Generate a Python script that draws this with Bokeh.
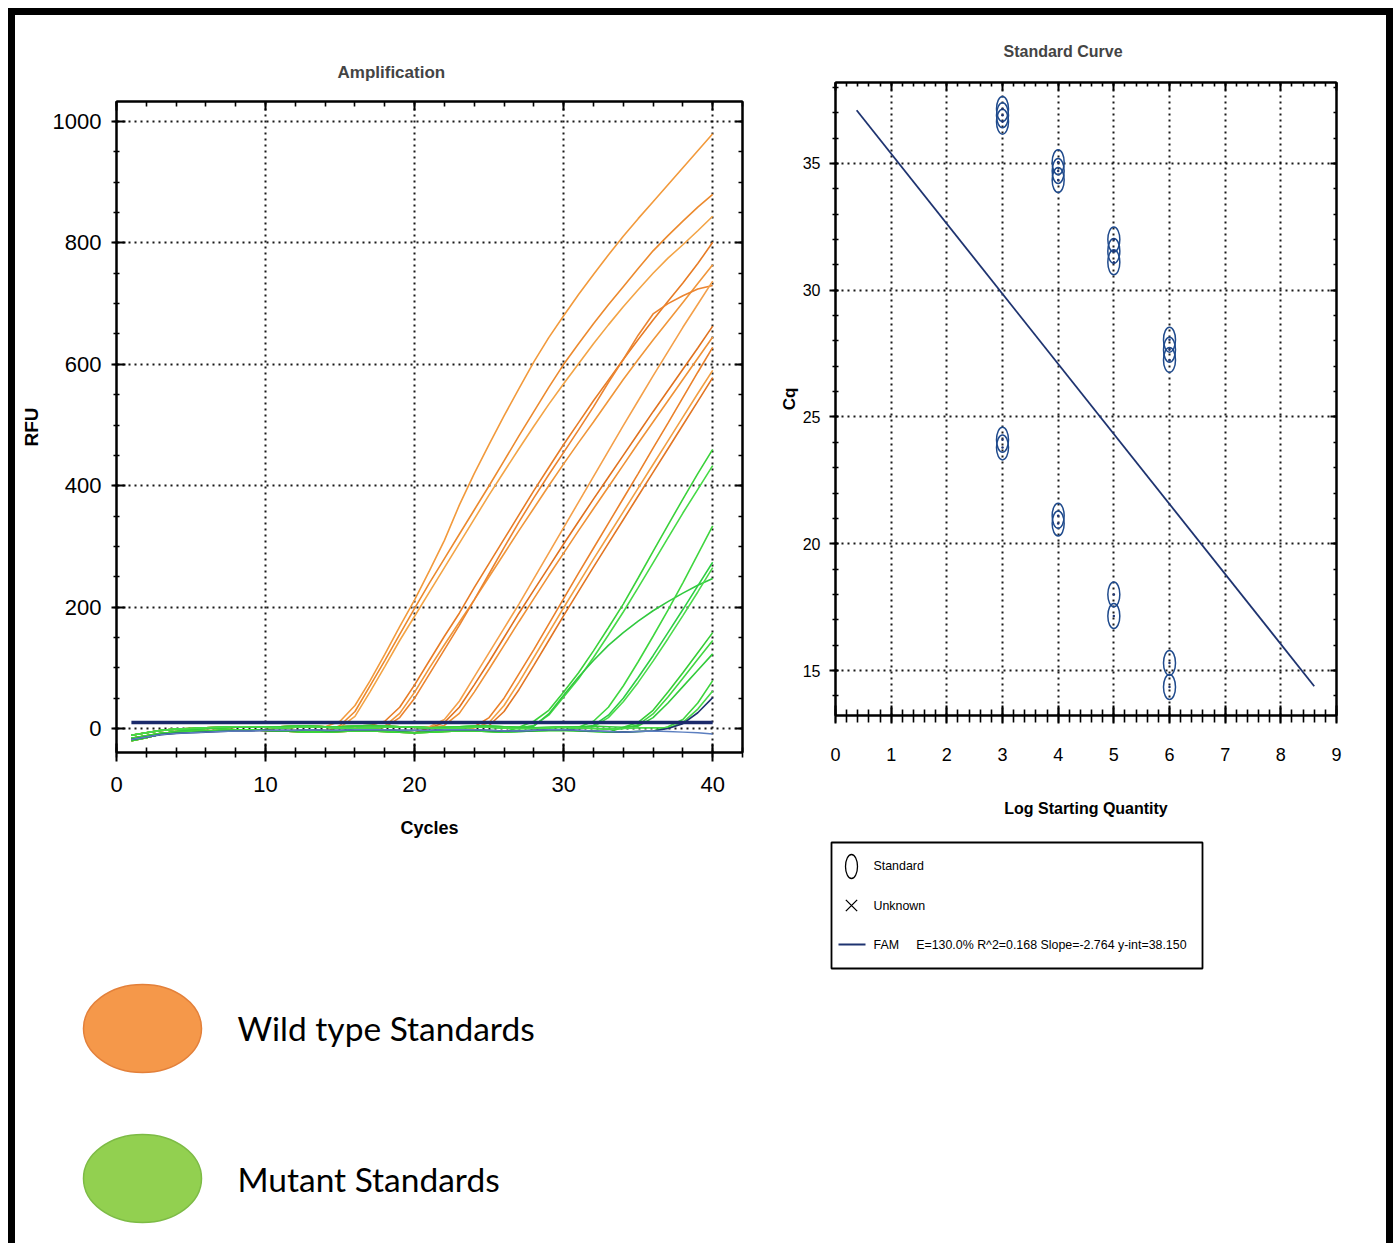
from bokeh.plotting import figure
from bokeh.models import (Range1d, SingleIntervalTicker, LinearAxis, Spacer, Title,
                          CustomLabelingPolicy)
from bokeh.layouts import row, column
from bokeh.embed import file_html
from bokeh.resources import INLINE
from bokeh.core.properties import value

SANS = "Liberation Sans"
KEY_FONT = "Lato"
NAVY = "#1E3370"

# ---------------------------------------------------------------- data
cycles = list(range(1, 41))

# flat pre-amplification readings (RFU), cycles 1..40
base_a = [-20, -15, -9, -5, -2, 0, 1, 2, 2, 3, 3, 4, 4, 3, 3, 4, 5, 4, 3, 2,
          1, 2, 3, 4, 4, 3, 2, 1, 2, 3, 3, 4, 3, 2, 2, 3, 4, 3, 2, 3]
base_b = [-16, -12, -8, -6, -5, -4, -3, -2, -2, -3, -4, -5, -6, -6, -5, -4, -4, -5, -6, -7,
          -6, -5, -4, -4, -5, -6, -5, -4, -3, -3, -4, -5, -6, -6, -5, -4, -4, -3, -4, -5]
base_c = [-11, -7, -3, -1, 0, 1, 2, 3, 3, 2, 1, 2, 3, 2, 1, 0, 1, 2, 3, 2,
          1, 0, 1, 2, 2, 1, 0, 0, 1, 2, 1, 0, -1, 0, 1, 1, 0, -1, 0, 1]
base_navy = [-18, -14, -10, -8, -7, -6, -5, -4, -4, -3, -3, -3, -2, -3, -3, -2, -2, -2, -3, -3,
             -3, -2, -2, -2, -3, -4, -4, -3, -2, -2, -3, -4, -5, -6, -5, -4, -5, -6, -7, -9]
bases = {"a": base_a, "b": base_b, "c": base_c, "n": base_navy}

# wild type standards: (first rising cycle, baseline, RFU from that cycle to 40)
wild_type = [
    (15, "a", [12, 38, 78, 122, 168, 212, 260, 310, 368, 420, 468, 515, 560, 604, 644, 680,
               715, 748, 780, 811, 840, 868, 896, 924, 952, 980]),
    (15, "b", [5, 28, 70, 112, 155, 198, 240, 280, 320, 360, 400, 441, 482, 522, 562, 600,
               634, 667, 698, 728, 758, 787, 812, 836, 859, 880]),
    (15, "c", [2, 20, 60, 102, 145, 185, 225, 265, 305, 345, 385, 423, 461, 498, 534, 568,
               601, 634, 665, 695, 723, 750, 775, 797, 820, 844]),
    (18, "a", [12, 35, 72, 112, 152, 190, 232, 272, 312, 352, 392, 430, 468, 504, 540, 574,
               608, 641, 673, 704, 734, 766, 801]),
    (18, "b", [4, 25, 60, 100, 138, 175, 212, 250, 288, 326, 363, 400, 436, 471, 505, 540,
               575, 608, 640, 671, 702, 733, 764]),
    (18, "c", [2, 18, 50, 90, 130, 170, 212, 255, 298, 340, 380, 418, 455, 492, 530, 570,
               608, 648, 683, 700, 713, 724, 730]),
    (21, "a", [3, 15, 45, 85, 125, 165, 205, 247, 289, 331, 373, 415, 457, 499, 540, 581,
               621, 661, 699, 737]),
    (21, "b", [1, 10, 35, 72, 110, 150, 190, 228, 266, 304, 341, 378, 414, 450, 486, 522,
               557, 592, 627, 663]),
    (22, "c", [5, 25, 60, 98, 137, 176, 214, 252, 289, 326, 362, 398, 434, 470, 505, 540,
               575, 610, 645]),
    (24, "a", [3, 18, 50, 90, 130, 172, 214, 256, 297, 338, 379, 420, 462, 503, 545, 587, 628]),
    (24, "b", [1, 10, 38, 76, 117, 158, 199, 239, 279, 318, 357, 396, 435, 474, 513, 552, 590]),
    (25, "c", [5, 28, 64, 104, 145, 186, 226, 266, 305, 344, 383, 422, 461, 500, 539, 578]),
]

# mutant standards
mutant = [
    (27, "b", [2, 12, 30, 60, 92, 128, 166, 205, 248, 292, 335, 378, 420, 460]),
    (28, "c", [5, 22, 52, 82, 117, 154, 192, 232, 273, 314, 355, 394, 433]),
    (28, "a", [4, 24, 55, 85, 112, 137, 158, 177, 194, 209, 223, 236, 247]),
    (31, "b", [2, 12, 35, 70, 110, 152, 195, 240, 287, 334]),
    (32, "c", [5, 22, 50, 84, 120, 158, 196, 235, 274]),
    (32, "a", [3, 18, 44, 76, 111, 148, 186, 225, 265]),
    (34, "b", [2, 10, 30, 60, 92, 125, 158]),
    (35, "c", [6, 24, 52, 83, 114, 145]),
    (35, "a", [4, 18, 42, 69, 96, 123]),
    (37, "b", [3, 15, 42, 79]),
    (37, "c", [1, 10, 32, 62]),
]

# no-template well and the detection threshold
ntc = [
    (37, "n", [0, 8, 26, 51]),
]
threshold = 10

wt_colors = ["#F29A3C", "#EC8A2E", "#F3A446", "#E77C26", "#F0963A", "#EB8430",
             "#F4A04A", "#E0721F", "#EF9136", "#EA812B", "#F29E42", "#E27624"]
mt_colors = ["#3AD23A", "#46DA46", "#31C93F", "#3FD63F", "#2ECF44", "#4BDB4B",
             "#36CE36", "#42D742", "#33CB3B", "#3CD43C", "#48D948"]

# standard curve
std_log_qty = [3, 3, 3, 4, 4, 4, 5, 5, 5, 6, 6, 6, 3, 3, 4, 4, 5, 5, 6, 6]
std_cq = [37.15, 36.9, 36.65, 35.05, 34.7, 34.35, 32.0, 31.55, 31.1, 28.05, 27.65, 27.25,
          24.1, 23.8, 21.1, 20.8, 18.0, 17.15, 15.3, 14.35]
FIT_E = 130.0
FIT_R2 = 0.168
FIT_SLOPE = -2.764
FIT_INT = 38.150
fit_x = [0.38, 8.6]

key_labels = ["Wild type Standards", "Mutant Standards"]
key_fill = ["#F5984A", "#92D050"]
key_edge = ["#E3803A", "#7DBB45"]


def series(start, base, rise):
    return bases[base][:start - 1] + rise


def dotted_grid(p):
    for g in (p.xgrid[0], p.ygrid[0]):
        g.grid_line_color = "black"
        g.grid_line_dash = "2 4"
        g.grid_line_width = 2
        g.grid_line_alpha = 0.9


# tick marks on the top / right edges carry no labels
NO_LABELS = CustomLabelingPolicy(code="""
try {
  for (const i of Array.from(indices)) indices.unset(i)
} catch (e) {}
return indices
""")


def edge_axis(p, side, ticker, tin, tmin):
    ax = LinearAxis(ticker=ticker, major_label_text_font_size="0px",
                    major_label_policy=NO_LABELS, major_label_standoff=0,
                    major_tick_in=tin, major_tick_out=0, minor_tick_in=tmin, minor_tick_out=0,
                    axis_line_width=2, major_tick_line_width=2, minor_tick_line_width=1.6)
    p.add_layout(ax, side)


def style_axis(ax, size):
    ax.axis_line_width = 2
    ax.major_tick_line_width = 2
    ax.minor_tick_line_width = 1.6
    ax.major_label_text_font = SANS
    ax.major_label_text_font_size = size
    ax.major_label_text_color = "black"
    ax.axis_label_text_font = SANS
    ax.axis_label_text_font_style = "bold"
    ax.axis_label_text_color = "black"


# ---------------------------------------------------------------- amplification
p_amp = figure(width=745, height=960, x_range=Range1d(0, 42), y_range=Range1d(-39.5, 1033),
               output_backend="svg", toolbar_location=None,
               min_border_left=101, min_border_right=18, min_border_top=86,
               min_border_bottom=223)
p_amp.outline_line_color = "black"
p_amp.outline_line_width = 2
p_amp.title = Title(text="Amplification", align="left", offset=221, text_font=SANS,
                    text_font_size="17px", text_font_style="bold", standoff=40)

xa = p_amp.xaxis[0]
xa.ticker = SingleIntervalTicker(interval=10, num_minor_ticks=5)
xa.axis_label = "Cycles"
ya = p_amp.yaxis[0]
ya.ticker = SingleIntervalTicker(interval=200, num_minor_ticks=4)
ya.axis_label = "RFU"
style_axis(xa, "22px")
style_axis(ya, "22px")
xa.major_tick_in, xa.major_tick_out = 9, 9
xa.minor_tick_in, xa.minor_tick_out = 5, 5
xa.major_label_standoff = 15
xa.axis_label_text_font_size = "18px"
xa.axis_label_standoff = 23
ya.major_tick_in, ya.major_tick_out = 9, 5
ya.minor_tick_in, ya.minor_tick_out = 3, 3
ya.major_label_standoff = 10
ya.axis_label_text_font_size = "19px"
ya.axis_label_standoff = 8
edge_axis(p_amp, "above", SingleIntervalTicker(interval=10, num_minor_ticks=5), 9, 5)
edge_axis(p_amp, "right", SingleIntervalTicker(interval=200, num_minor_ticks=4), 7, 4)
dotted_grid(p_amp)

for (start, base, rise), col in zip(wild_type, wt_colors):
    p_amp.line(cycles, series(start, base, rise), line_color=col, line_width=1.6)
for (start, base, rise), col in zip(mutant, mt_colors):
    p_amp.line(cycles, series(start, base, rise), line_color=col, line_width=1.6)
for start, base, rise in ntc:
    p_amp.line(cycles, series(start, base, rise), line_color=NAVY, line_width=1.6)
p_amp.line(cycles, base_navy, line_color="#5C7FC0", line_width=1.4)
p_amp.line([cycles[0], cycles[-1]], [threshold, threshold], line_color="#1B2A6B", line_width=3.5)

# ---------------------------------------------------------------- standard curve
p_std = figure(width=626, height=820, x_range=Range1d(0, 9), y_range=Range1d(13.225, 38.195),
               output_backend="svg", toolbar_location=None,
               min_border_left=75, min_border_right=50, min_border_top=67,
               min_border_bottom=120)
p_std.outline_line_color = "black"
p_std.outline_line_width = 2
p_std.title = Title(text="Standard Curve", align="left", offset=168, text_font=SANS,
                    text_font_size="16px", text_font_style="bold", standoff=46)
sx = p_std.xaxis[0]
sx.ticker = SingleIntervalTicker(interval=1, num_minor_ticks=5)
sx.axis_label = "Log Starting Quantity"
sy = p_std.yaxis[0]
sy.ticker = SingleIntervalTicker(interval=5, num_minor_ticks=5)
sy.axis_label = "Cq"
style_axis(sx, "18px")
style_axis(sy, "16px")
sx.major_tick_in, sx.major_tick_out = 10, 8
sx.minor_tick_in, sx.minor_tick_out = 6, 7
sx.major_label_standoff = 24
sx.axis_label_text_font_size = "16px"
sx.axis_label_standoff = 36
sy.major_tick_in, sy.major_tick_out = 3, 6
sy.minor_tick_in, sy.minor_tick_out = 3, 3
sy.major_label_standoff = 9
sy.axis_label_text_font_size = "17px"
sy.axis_label_standoff = 1
edge_axis(p_std, "above", SingleIntervalTicker(interval=1, num_minor_ticks=5), 8, 4)
edge_axis(p_std, "right", SingleIntervalTicker(interval=5, num_minor_ticks=5), 6, 3)
dotted_grid(p_std)

fit_y = [FIT_INT + FIT_SLOPE * x for x in fit_x]
p_std.line(fit_x, fit_y, line_color=NAVY, line_width=1.8)
p_std.ellipse(x=std_log_qty, y=std_cq, width=12, height=25, width_units="screen",
              height_units="screen", fill_color=None, line_color="#1F4A8C", line_width=1.5)
p_std.scatter(std_log_qty, std_cq, marker="circle", size=2.5, fill_color=NAVY, line_color=None)

# ---------------------------------------------------------------- standard curve legend box
fam_label = ("FAM\u00a0\u00a0\u00a0\u00a0\u00a0E=%.1f%% R^2=%.3f Slope=%.3f y-int=%.3f"
             % (FIT_E, FIT_R2, FIT_SLOPE, FIT_INT))
leg_labels = ["Standard", "Unknown", fam_label]
LEG_GLYPH_X = 20      # glyph column centre inside the box
LEG_TEXT_X = 42       # label column start inside the box
p_leg = figure(width=375, height=140, x_range=Range1d(0, 371),
               y_range=Range1d(2.615, -0.615), output_backend="svg", toolbar_location=None,
               min_border_left=2, min_border_right=2, min_border_top=7, min_border_bottom=7,
               x_axis_location=None, y_axis_location=None)
p_leg.grid.visible = False
p_leg.outline_line_color = "black"
p_leg.outline_line_width = 1.8
p_leg.ellipse(x=[LEG_GLYPH_X], y=[0], width=12, height=24, width_units="screen",
              height_units="screen", fill_color=None, line_color="black", line_width=1.3)
p_leg.scatter(x=[LEG_GLYPH_X], y=[1], marker="x", size=16, line_color="black", line_width=1.3)
p_leg.segment(x0=[LEG_GLYPH_X - 13], y0=[2], x1=[LEG_GLYPH_X + 14], y1=[2],
              line_color=NAVY, line_width=2.2)
p_leg.text(x=[LEG_TEXT_X] * 3, y=[0, 1, 2], text=leg_labels, text_font=value(SANS),
           text_font_size="12.4px", text_baseline="middle", text_color="black")

# ---------------------------------------------------------------- colour key
KEY_SWATCH_X = 127
KEY_TEXT_X = 222
p_key = figure(width=1371, height=268, x_range=Range1d(0, 1371), y_range=Range1d(1.4333, -0.3533),
               output_backend="svg", toolbar_location=None, min_border=0,
               x_axis_location=None, y_axis_location=None)
p_key.grid.visible = False
p_key.outline_line_color = None
rows = list(range(len(key_labels)))
p_key.ellipse(x=[KEY_SWATCH_X] * len(rows), y=rows, width=118, height=88,
              width_units="screen", height_units="screen",
              fill_color=key_fill, line_color=key_edge, line_width=1.5)
p_key.text(x=[KEY_TEXT_X] * len(rows), y=rows, text=key_labels, text_font=value(KEY_FONT),
           text_font_size="33.5px", text_baseline="middle", text_color="black")

# ---------------------------------------------------------------- page
BLACK = {"background-color": "black"}
right_col = column(p_std, row(Spacer(width=69, height=140), p_leg, Spacer(width=182, height=140)))
content = column(row(column(p_amp), right_col), p_key)
framed = row(Spacer(width=8, height=1235),
             Spacer(width=7, height=1235, styles=BLACK),
             column(Spacer(width=1371, height=7, styles=BLACK), content),
             Spacer(width=7, height=1235, styles=BLACK))
page = column(Spacer(width=1399, height=8), framed)

open("out.html", "w").write(file_html(page, INLINE, title="Amplification and standard curve"))
